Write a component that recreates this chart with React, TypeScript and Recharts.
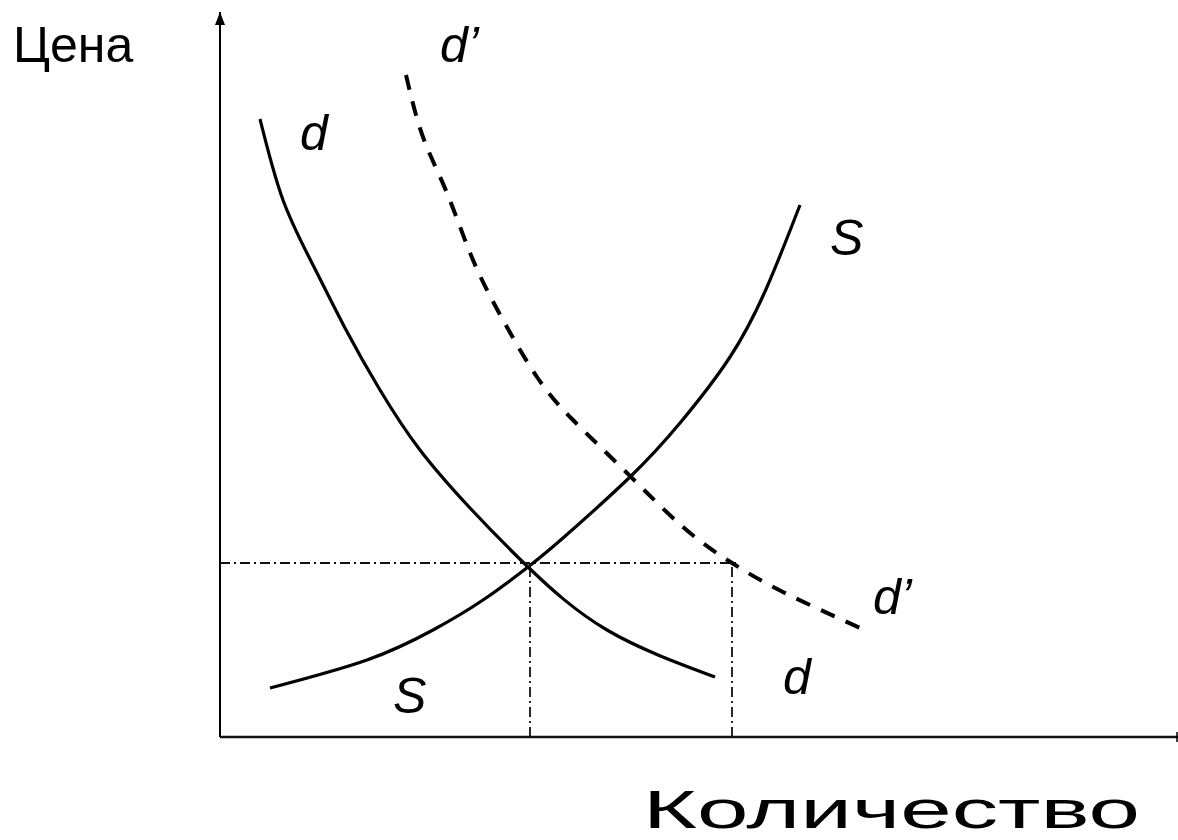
import { Line, LineChart, ReferenceDot, ReferenceLine, XAxis, YAxis } from 'recharts'

// Quantity / price readings (arbitrary units, origin at the axes crossing)
const demandD = [
  { x: 40, y: 618 }, { x: 63, y: 537 }, { x: 93, y: 472 }, { x: 125, y: 409 },
  { x: 160, y: 347 }, { x: 200, y: 287 }, { x: 250, y: 229 }, { x: 308, y: 170 },
  { x: 387, y: 107 }, { x: 495, y: 60 },
]

const demandShifted = [
  { x: 186, y: 662 }, { x: 203, y: 600 }, { x: 227, y: 544 }, { x: 253, y: 477 },
  { x: 283, y: 417 }, { x: 317, y: 360 }, { x: 353, y: 317 }, { x: 407, y: 264 },
  { x: 463, y: 210 }, { x: 512, y: 174 }, { x: 563, y: 145 }, { x: 640, y: 109 },
]

const supplyS = [
  { x: 50, y: 49 }, { x: 147, y: 77 }, { x: 213, y: 107 }, { x: 263, y: 137 },
  { x: 308, y: 170 }, { x: 343, y: 199 }, { x: 410, y: 260 }, { x: 460, y: 314 },
  { x: 510, y: 380 }, { x: 547, y: 450 }, { x: 580, y: 532 },
]

const equilibriumPrice = 174
const equilibriumQty = 310
const shiftedQty = 512
const X_MAX = 958
const Y_MAX = 725

const labels = [
  { text: 'Цена', x: 13, y: 62, italic: false, size: 50, width: 0 },
  { text: 'd’', x: 440, y: 62, italic: true, size: 50, width: 0 },
  { text: 'd', x: 300, y: 150, italic: true, size: 50, width: 0 },
  { text: 'S', x: 830, y: 255, italic: true, size: 50, width: 0 },
  { text: 'd’', x: 873, y: 614, italic: true, size: 50, width: 0 },
  { text: 'd', x: 783, y: 694, italic: true, size: 50, width: 0 },
  { text: 'S', x: 393, y: 713, italic: true, size: 50, width: 0 },
  { text: 'Количество', x: 643, y: 828, italic: false, size: 54, width: 497 },
]

const dashDot = '10 4 2 4'

export default function App() {
  return (
    <div style={{ position: 'absolute', left: 0, top: 0, width: 1178, height: 840, background: '#fff' }}>
      <LineChart
        width={1178}
        height={840}
        margin={{ top: 12, right: 0, bottom: 103, left: 220 }}
      >
        <XAxis type="number" dataKey="x" domain={[0, X_MAX]} hide allowDuplicatedCategory={false} />
        <YAxis type="number" dataKey="y" domain={[0, Y_MAX]} hide />

        {/* axes */}
        <ReferenceLine x={0} stroke="#000" strokeWidth={2} />
        <ReferenceLine y={0} stroke="#111" strokeWidth={2.5} />
        <ReferenceDot
          x={0}
          y={Y_MAX}
          r={0}
          shape={(p: any) => (
            <polygon points={`${p.cx},${p.cy} ${p.cx - 5},${p.cy + 13} ${p.cx + 5},${p.cy + 13}`} fill="#000" />
          )}
        />
        <ReferenceDot
          x={X_MAX}
          y={0}
          r={0}
          shape={(p: any) => (
            <line x1={p.cx - 1} y1={p.cy - 5} x2={p.cx - 1} y2={p.cy + 5} stroke="#000" strokeWidth={1.5} />
          )}
        />

        {/* guide lines */}
        <ReferenceLine
          segment={[{ x: 0, y: equilibriumPrice }, { x: shiftedQty + 5, y: equilibriumPrice }]}
          stroke="#111"
          strokeWidth={1.8}
          strokeDasharray={dashDot}
        />
        <ReferenceLine
          segment={[{ x: equilibriumQty, y: 0 }, { x: equilibriumQty, y: equilibriumPrice }]}
          stroke="#111"
          strokeWidth={1.8}
          strokeDasharray={dashDot}
        />
        <ReferenceLine
          segment={[{ x: shiftedQty, y: 0 }, { x: shiftedQty, y: equilibriumPrice }]}
          stroke="#111"
          strokeWidth={1.8}
          strokeDasharray={dashDot}
        />

        <Line data={demandD} dataKey="y" type="natural" stroke="#000" strokeWidth={3.2}
          dot={false} activeDot={false} isAnimationActive={false} />
        <Line data={supplyS} dataKey="y" type="natural" stroke="#000" strokeWidth={3.2}
          dot={false} activeDot={false} isAnimationActive={false} />
        <Line data={demandShifted} dataKey="y" type="natural" stroke="#000" strokeWidth={4}
          strokeDasharray="15 12" dot={false} activeDot={false} isAnimationActive={false} />
      </LineChart>

      <svg width={1178} height={840} style={{ position: 'absolute', left: 0, top: 0, pointerEvents: 'none' }}>
        {labels.map((l, i) => (
          <text
            key={i}
            x={l.x}
            y={l.y}
            fontFamily="'Liberation Sans', Arial, sans-serif"
            fontSize={l.size}
            fontStyle={l.italic ? 'italic' : 'normal'}
            fill="#000"
            {...(l.width ? { textLength: l.width, lengthAdjust: 'spacingAndGlyphs' } : {})}
          >
            {l.text}
          </text>
        ))}
      </svg>
    </div>
  )
}
